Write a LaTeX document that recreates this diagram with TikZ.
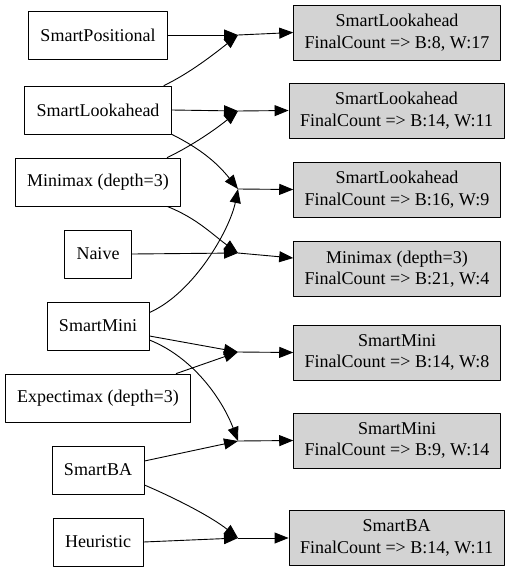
\documentclass[tikz,border=0pt]{standalone}
\usepackage{fontspec}
\setmainfont{Liberation Serif}
\usetikzlibrary{arrows.meta}
\definecolor{boxgray}{HTML}{D3D3D3}
\begin{document}
\begin{tikzpicture}[x=1pt, y=-1pt, font=\fontsize{18}{21.6}\selectfont, line join=round, line cap=round,
	>={Triangle[length=14pt,width=11pt]}, line width=0.9pt,
	player/.style={draw, minimum height=48pt, inner xsep=12pt, inner ysep=0pt},
	result/.style={draw, fill=boxgray, align=center, minimum height=55pt, inner xsep=11pt, inner ysep=0pt}]
	\useasboundingbox (0,0) rectangle (511,571);
	% players
	\node[player] (sp) at (98,35) {SmartPositional};
	\node[player] (sl) at (98,110) {SmartLookahead};
	\node[player] (mm) at (98,182) {Minimax (depth=3)};
	\node[player] (nv) at (98,254) {Naive};
	\node[player] (smi) at (98,326) {SmartMini};
	\node[player] (em) at (98,398) {Expectimax (depth=3)};
	\node[player] (sba) at (98,470) {SmartBA};
	\node[player] (he) at (98,542) {Heuristic};
	% results
	\node[result] (r1) at (397,32.5) {SmartLookahead\\FinalCount => B:8, W:17};
	\node[result] (r2) at (396.5,110.5) {SmartLookahead\\FinalCount => B:14, W:11};
	\node[result] (r3) at (397,189.5) {SmartLookahead\\FinalCount => B:16, W:9};
	\node[result] (r4) at (397,269) {Minimax (depth=3)\\FinalCount => B:21, W:4};
	\node[result] (r5) at (397,352.5) {SmartMini\\FinalCount => B:14, W:8};
	\node[result] (r6) at (397,440.5) {SmartMini\\FinalCount => B:9, W:14};
	\node[result] (r7) at (396.5,538) {SmartBA\\FinalCount => B:14, W:11};
	% junctions
	\coordinate (j1) at (238,35);
	\coordinate (j2) at (238,111);
	\coordinate (j3) at (238,189);
	\coordinate (j4) at (238,253);
	\coordinate (j5) at (238,352);
	\coordinate (j6) at (238,441);
	\coordinate (j7) at (238,538);
	
	\draw[->] (sp.east) -- (j1);
	\draw[->] ([xshift=-8pt]sl.north east) .. controls +(25,-12) and +(-25,20) .. (j1);
	\draw[->] (sl.east) -- (j2);
	\draw[->] ([xshift=-14pt]mm.north east) .. controls +(25,-12) and +(-22,18) .. (j2);
	\draw[->] (sl.south east) .. controls +(30,15) and +(-20,-25) .. (j3);
	\draw[->] ([yshift=-11pt]smi.north east) .. controls +(45,-20) and +(-8,40) .. (j3);
	\draw[->] ([xshift=-14pt]mm.south east) .. controls +(30,12) and +(-25,-18) .. (j4);
	\draw[->] (nv.east) -- (j4);
	\draw[->] ([yshift=-10pt]smi.east) -- (j5);
	\draw[->] ([xshift=-15pt]em.north east) -- (j5);
	\draw[->] ([yshift=-14pt]smi.east) .. controls +(45,18) and +(-15,-40) .. (j6);
	\draw[->] ([yshift=9pt]sba.east) -- (j6);
	\draw[->] ([yshift=-15pt]sba.east) .. controls +(35,15) and +(-25,-20) .. (j7);
	\draw[->] (he.east) -- (j7);
	\foreach \i in {1,2,3,5,6,7}
		\draw[->] (j\i) -- (r\i.west);
	\draw[->] (j4) -- ([yshift=11pt]r4.west);
\end{tikzpicture}
\end{document}
